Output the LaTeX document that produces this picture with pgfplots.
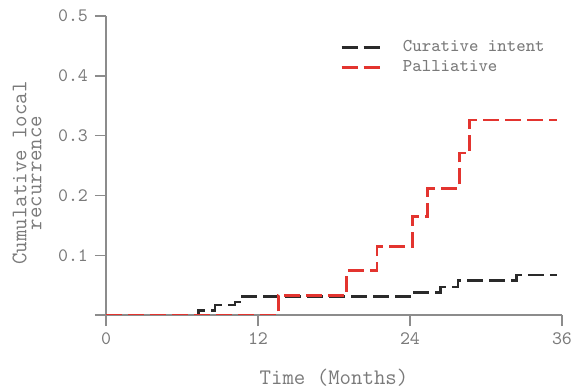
\documentclass[border=0pt]{standalone}
\usepackage{pgfplots}
\pgfplotsset{compat=1.18}
\definecolor{axgray}{HTML}{8C8C8C}
\definecolor{txtgray}{HTML}{7A7A7A}
\definecolor{cred}{HTML}{E3342F}
\definecolor{cblack}{HTML}{2A2A2A}
\begin{document}
\begin{tikzpicture}
\path[use as bounding box] (0,0) rectangle (287bp,193.5bp);
\begin{axis}[
 at={(53bp,36bp)}, anchor=south west, scale only axis,
 width=228bp, height=149.5bp,
 xmin=0, xmax=36, ymin=0, ymax=0.5,
 axis x line=bottom, axis y line=left,
 axis line style={axgray, line width=0.7bp, -},
 tick align=outside, major tick length=5.5bp,
 tick style={axgray, line width=0.7bp},
 xtick={0,12,24,36}, xticklabels={0,12,24,36},
 ytick={0,0.1,0.2,0.3,0.4,0.5}, yticklabels={{},0.1,0.2,0.3,0.4,0.5},
 ticklabel style={font=\ttfamily\fontsize{9.5bp}{10bp}\selectfont, text=txtgray},
 xlabel={Time (Months)},
 ylabel={Cumulative local\\recurrence},
 every axis x label/.style={at={(rel axis cs:0.5,0)}, anchor=center, yshift=-31.5bp,
   font=\ttfamily\fontsize{11.1bp}{10bp}\selectfont, text=txtgray},
 every axis y label/.style={at={(rel axis cs:0,0.475)}, anchor=center, xshift=-39.5bp, rotate=90,
   align=center, font=\ttfamily\fontsize{11.1bp}{7.5bp}\selectfont, text=txtgray},
 legend style={draw=none, fill=none, at={(rel axis cs:0.513,0.923)}, anchor=north west,
   font=\ttfamily\fontsize{9bp}{9bp}\selectfont, text=txtgray, inner sep=0pt,
   nodes={inner sep=0pt, text height=6bp, text depth=2bp}, row sep=2bp, column sep=10bp},
 legend cell align=left,
 legend image code/.code={\draw[#1] (0bp,0bp) -- (20bp,0bp);},
]
\addplot[const plot, cblack, line width=1.3bp, dash pattern=on 8bp off 3bp] coordinates {
 (0,0) (7.3,0.008) (8.6,0.017) (10.2,0.022) (10.8,0.031) (24.2,0.038) (26.4,0.047) (27.8,0.058) (32.4,0.067) (35.6,0.067)};
\addlegendentry{Curative intent}
\addplot[const plot, cred, line width=1.3bp, dash pattern=on 8bp off 3bp] coordinates {
 (0,0) (13.6,0.033) (19.0,0.074) (21.4,0.115) (24.2,0.165) (25.4,0.212) (27.9,0.271) (28.7,0.326) (35.6,0.326)};
\addlegendentry{Palliative}
\end{axis}
\end{tikzpicture}
\end{document}
